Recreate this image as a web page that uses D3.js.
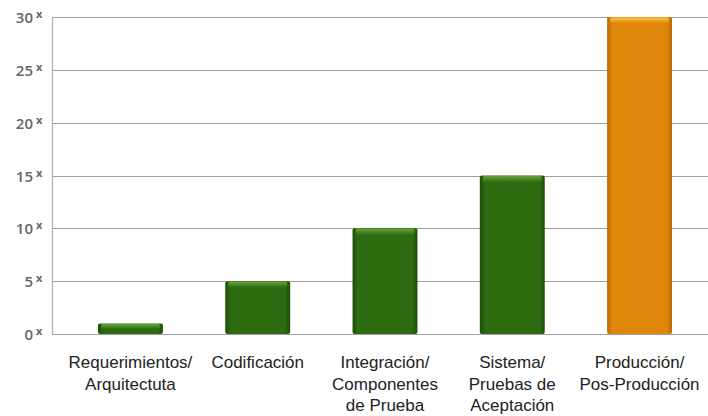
<!DOCTYPE html>
<html>
<head>
<meta charset="utf-8">
<script src="https://cdn.jsdelivr.net/npm/d3@7"></script>
<style>
  body { margin: 0; background: #fff; }
  svg { display: block; }
</style>
</head>
<body>
<svg id="chart" width="708" height="416"></svg>
<script>
// data
const categories = [
  ["Requerimientos/", "Arquitectuta"],
  ["Codificación"],
  ["Integración/", "Componentes", "de Prueba"],
  ["Sistema/", "Pruebas de", "Aceptación"],
  ["Producción/", "Pos-Producción"]
];
const costFactor = [1, 5, 10, 15, 30];
const yTicks = [0, 5, 10, 15, 20, 25, 30];
const highlightIndex = 4;

let width = 708;
let svg = d3.select('#chart');

let yScale = d3.scaleLinear()
  .domain([0, 30])
  .range([334, 17]);

let xScale = d3.scaleBand()
  .domain(d3.range(categories.length))
  .range([98, 672])
  .paddingInner(0.49)
  .paddingOuter(0);

// gradients for the bevelled bars
let defs = svg.append('defs');
function makeGrad(id, edge, mid) {
  let g = defs.append('linearGradient').attr('id', id)
    .attr('x1', 0).attr('x2', 1).attr('y1', 0).attr('y2', 0);
  g.append('stop').attr('offset', '0%').attr('stop-color', edge);
  g.append('stop').attr('offset', '8%').attr('stop-color', mid);
  g.append('stop').attr('offset', '92%').attr('stop-color', mid);
  g.append('stop').attr('offset', '100%').attr('stop-color', edge);
}
makeGrad('gGreen', '#1e4d08', '#2c6b10');
makeGrad('gOrange', '#b86a06', '#e0860a');

function makeTop(id, light, mid) {
  let g = defs.append('linearGradient').attr('id', id)
    .attr('x1', 0).attr('x2', 0).attr('y1', 0).attr('y2', 1);
  g.append('stop').attr('offset', '0%').attr('stop-color', light);
  g.append('stop').attr('offset', '100%').attr('stop-color', mid);
}
makeTop('tGreen', '#6aa43a', '#2c6b10');
makeTop('tOrange', '#fbc24a', '#e0860a');

// grid lines
svg.append('g')
  .selectAll('line')
  .data(yTicks)
  .join('line')
  .attr('x1', 52)
  .attr('x2', width)
  .attr('y1', d => Math.round(yScale(d)) + 0.5)
  .attr('y2', d => Math.round(yScale(d)) + 0.5)
  .attr('stroke', '#a0a0a0')
  .attr('stroke-width', 1.2);

// y axis line
svg.append('line')
  .attr('x1', 52.5).attr('x2', 52.5)
  .attr('y1', yScale(30)).attr('y2', yScale(0) + 0.5)
  .attr('stroke', '#b0b0b0')
  .attr('stroke-width', 1.2);

// y tick labels: number plus a small raised "x"
let yLab = svg.append('g')
  .attr('font-family', 'Open Sans, DejaVu Sans, sans-serif')
  .attr('fill', '#666');

yLab.selectAll('text.num')
  .data(yTicks)
  .join('text')
  .attr('class', 'num')
  .attr('x', 33)
  .attr('y', d => yScale(d) + 6)
  .attr('text-anchor', 'end')
  .attr('font-size', 15)
  .attr('font-weight', 600)
  .text(d => d);

yLab.selectAll('text.x')
  .data(yTicks)
  .join('text')
  .attr('class', 'x')
  .attr('x', 36)
  .attr('y', d => yScale(d) + 1)
  .attr('font-size', 11)
  .attr('font-weight', 700)
  .text('x');

// bars
let bars = svg.append('g')
  .selectAll('g')
  .data(costFactor)
  .join('g');

bars.append('rect')
  .attr('x', (d, i) => xScale(i))
  .attr('y', d => yScale(d))
  .attr('width', xScale.bandwidth())
  .attr('height', d => yScale(0) - yScale(d))
  .attr('rx', 2)
  .attr('fill', (d, i) => i === highlightIndex ? 'url(#gOrange)' : 'url(#gGreen)');

bars.append('rect')
  .attr('x', (d, i) => xScale(i) + 3)
  .attr('y', d => yScale(d) + 0.5)
  .attr('width', xScale.bandwidth() - 6)
  .attr('height', d => Math.min(6, (yScale(0) - yScale(d)) / 2))
  .attr('rx', 2)
  .attr('fill', (d, i) => i === highlightIndex ? 'url(#tOrange)' : 'url(#tGreen)');

// category labels
let cats = svg.append('g')
  .selectAll('text')
  .data(categories)
  .join('text')
  .attr('text-anchor', 'middle')
  .attr('font-family', 'Liberation Sans, Arial, sans-serif')
  .attr('font-size', 17)
  .attr('fill', '#222');

cats.selectAll('tspan')
  .data((d, i) => d.map(t => ({ t, i })))
  .join('tspan')
  .attr('x', d => xScale(d.i) + xScale.bandwidth() / 2)
  .attr('y', (d, j) => 368 + j * 21.5)
  .text(d => d.t);
</script>
</body>
</html>
